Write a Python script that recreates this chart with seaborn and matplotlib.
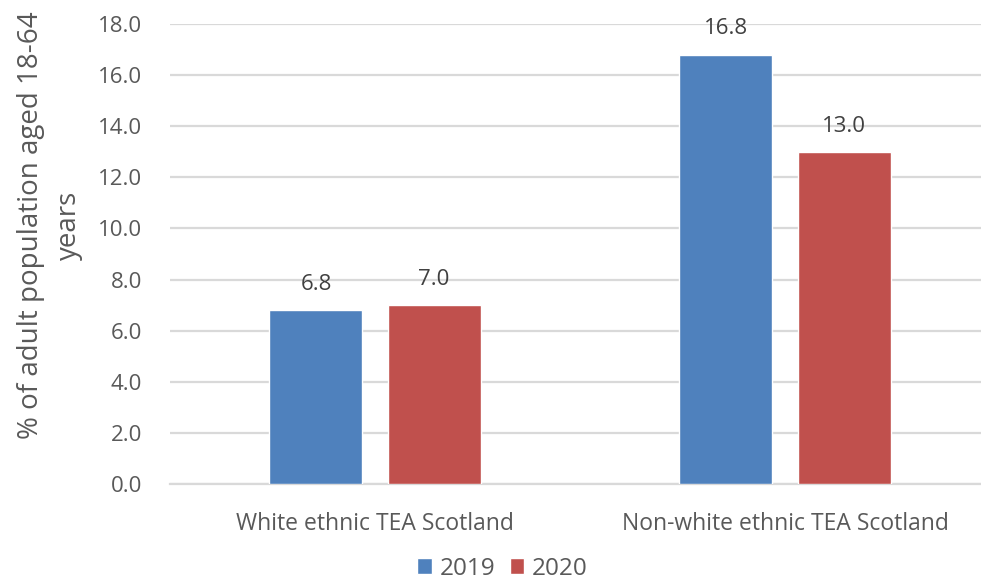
import matplotlib
matplotlib.use("Agg")
import matplotlib.pyplot as plt
import seaborn as sns
import pandas as pd

# Chart data
categories = ["White ethnic TEA Scotland", "Non-white ethnic TEA Scotland"]
years = ["2019", "2020"]
values_2019 = [6.8, 16.8]
values_2020 = [7.0, 13.0]
y_ticks = [0, 2, 4, 6, 8, 10, 12, 14, 16, 18]

df = pd.DataFrame({
    "category": categories * 2,
    "year": [years[0]] * 2 + [years[1]] * 2,
    "value": values_2019 + values_2020,
})

sns.set_theme(style="white")
plt.rcParams["font.family"] = ["Open Sans", "DejaVu Sans"]

text_col = "#595959"
grid_col = "#D9D9D9"
palette = {"2019": "#4F81BD", "2020": "#C0504D"}

fig = plt.figure(figsize=(9.81, 5.86), dpi=100)
ax = fig.add_axes([170 / 981, 102 / 586, 811 / 981, 460 / 586])

sns.barplot(data=df, x="category", y="value", hue="year", order=categories,
            hue_order=years, palette=palette, width=0.576, gap=0.212,
            saturation=1, ax=ax, zorder=3, legend=True)

ax.set_xlim(-0.5, 1.5 - 9 / 410)
ax.set_ylim(0, 18)
ax.set_yticks(y_ticks)
ax.set_yticklabels([f"{t:.1f}" for t in y_ticks])
ax.yaxis.grid(True, color=grid_col, linewidth=1.6, zorder=0)
ax.set_axisbelow(True)
for side in ["top", "right", "left"]:
    ax.spines[side].set_visible(False)
ax.spines["bottom"].set_color(grid_col)
ax.spines["bottom"].set_linewidth(1.6)
ax.tick_params(axis="y", length=0, pad=20, labelsize=16, labelcolor=text_col)
ax.tick_params(axis="x", length=0, pad=20, labelsize=16.5, labelcolor=text_col)
ax.set_xlabel("")
ax.set_ylabel("% of adult population aged 18-64\nyears", fontsize=20,
              color=text_col, linespacing=1.5)
ax.yaxis.set_label_coords(-0.107, 0.563)

for container in ax.containers:
    ax.bar_label(container, fmt="%.1f", padding=11, fontsize=16, color="#404040")

handles, labels = ax.get_legend_handles_labels()
ax.get_legend().remove()
fig.legend(handles, labels, loc="lower center", bbox_to_anchor=(0.512, -0.028),
           ncol=2, frameon=False, fontsize=17.5, handlelength=0.6,
           handleheight=0.6, handletextpad=0.3, columnspacing=0.6,
           labelcolor=text_col)

fig.savefig("out.png", dpi=100)
